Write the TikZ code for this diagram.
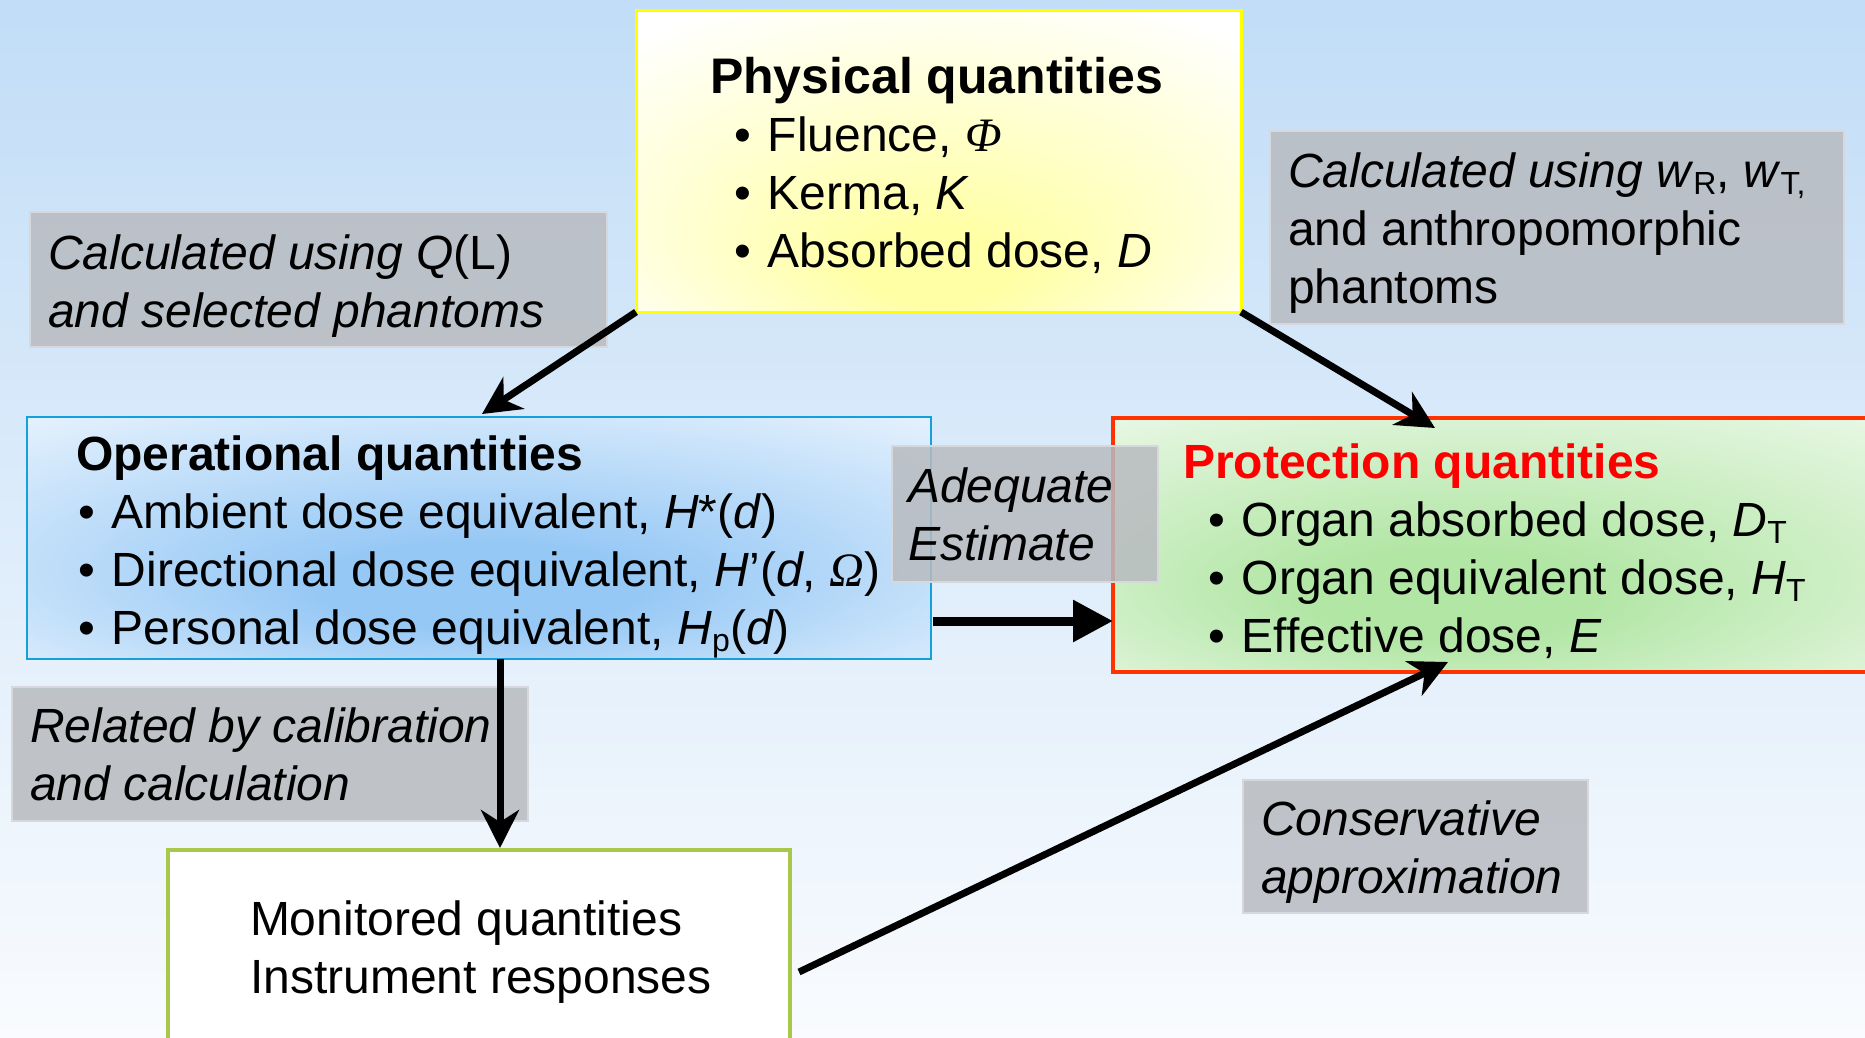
\documentclass[tikz,border=0pt]{standalone}
\usepackage{fontspec}
\setmainfont{Liberation Sans}
\newfontfamily\greekfont{Liberation Serif}
\usepackage{tikz}
\usetikzlibrary{positioning, calc, arrows.meta}
\definecolor{bgtop}{RGB}{193,221,247}
\definecolor{bgmid}{RGB}{241,246,253}
\definecolor{bgbot}{RGB}{249,251,254}
\definecolor{physline}{RGB}{255,255,0}
\definecolor{physfill}{RGB}{255,255,165}
\definecolor{operline}{RGB}{20,160,220}
\definecolor{operfill}{RGB}{150,200,245}
\definecolor{operedge}{RGB}{236,245,254}
\definecolor{protline}{RGB}{255,51,0}
\definecolor{protfill}{RGB}{178,230,165}
\definecolor{protedge}{RGB}{238,249,235}
\definecolor{protred}{RGB}{255,0,0}
\definecolor{monline}{RGB}{168,200,76}
\definecolor{notegray}{RGB}{184,187,192}
\definecolor{noteedge}{RGB}{214,216,220}
\pgfdeclareradialshading[physfill]{physglow}{\pgfpoint{0bp}{-20bp}}{color(0bp)=(physfill); color(6bp)=(physfill); color(36bp)=(white); color(50bp)=(white)}
\pgfdeclareradialshading[operfill,operedge]{operglow}{\pgfpoint{0bp}{-12bp}}{color(0bp)=(operfill); color(9bp)=(operfill); color(40bp)=(operedge); color(50bp)=(operedge)}
\pgfdeclareradialshading[protfill,protedge]{protglow}{\pgfpoint{-5bp}{-12bp}}{color(0bp)=(protfill); color(9bp)=(protfill); color(40bp)=(protedge); color(50bp)=(protedge)}
\newcommand{\qbullet}[1]{\hspace*{#1}\textbullet\hspace*{17pt}}
\newcommand{\qsub}[1]{\raisebox{-7pt}{\fontsize{32}{32}\selectfont #1}}
\newcommand{\qgreek}[1]{{\greekfont\itshape #1}}

\begin{document}
\begin{tikzpicture}[
    x=1pt, y=-1pt,
    every node/.style={inner sep=0pt, outer sep=0pt, font=\fontsize{48}{58}\selectfont},
    txt/.style={anchor=north west, align=left},
    box/.style={anchor=north west, line width=3pt},
    physbox/.style={box, draw=physline, shade, shading=physglow},
    operbox/.style={box, draw=operline, line width=2.5pt, shade, shading=operglow},
    protbox/.style={box, draw=protline, line width=3.5pt, shade, shading=protglow},
    monbox/.style={box, draw=monline, line width=4pt, fill=white},
    note/.style={anchor=north west, draw=noteedge, line width=2pt, fill=notegray, fill opacity=0.85},
    link/.style={-{Stealth[length=38pt, width=38pt, inset=12pt]}, line width=7pt},
    bigarrow/.style={-{Triangle[length=40pt, width=40pt]}, line width=9pt}
]
    % Background
    \useasboundingbox (0,0) rectangle (1865,1037);
    \clip (0,0) rectangle (1865,1037);
    \shade[top color=bgtop, middle color=bgmid, bottom color=bgbot] (0,0) rectangle (1865,1037);

    % Physical quantities
    \node[physbox, minimum width=605pt, minimum height=302pt] (phys) at (636,10) {};
    \node[txt] (physTxt) at ($(phys.north west)+(74,42.4)$) {\strut{\fontsize{50}{58}\selectfont\textbf{Physical quantities}}\\
        \qbullet{24pt}Fluence, \qgreek{Φ}\\
        \qbullet{24pt}Kerma, \textit{K}\\
        \qbullet{24pt}Absorbed dose, \textit{D}};

    % Operational quantities
    \node[operbox, minimum width=904pt, minimum height=242pt] (oper) at (27,417) {};
    \node[txt] (operTxt) at ($(oper.north west)+(49,12.4)$) {\strut\textbf{Operational quantities}\\
        \qbullet{2pt}Ambient dose equivalent, \textit{H}*(\textit{d})\\
        \qbullet{2pt}Directional dose equivalent, \textit{H}’(\textit{d}, \qgreek{Ω})\\
        \qbullet{2pt}Personal dose equivalent, \textit{H}\qsub{p}(\textit{d})};

    % Protection quantities
    \node[protbox, minimum width=800pt, minimum height=254pt] (prot) at (1113,418) {};
    \node[txt] (protTxt) at ($(prot.north west)+(70,19.4)$) {\strut{\color{protred}\textbf{Protection quantities}}\\
        \qbullet{25pt}Organ absorbed dose, \textit{D}\qsub{T}\\
        \qbullet{25pt}Organ equivalent dose, \textit{H}\qsub{T}\\
        \qbullet{25pt}Effective dose, \textit{E}};

    % Monitored quantities
    \node[monbox, minimum width=622pt, minimum height=230pt] (mon) at (168,850) {};
    \node[txt] (monTxt) at ($(mon.north west)+(82,44.4)$) {\strut Monitored quantities\\ Instrument responses};

    % Notes
    \node[note, minimum width=577pt, minimum height=135pt] (noteQ) at (30,212) {};
    \node[txt] (noteQTxt) at ($(noteQ.north west)+(18,16.4)$) {\strut\textit{Calculated using Q}(L)\\ \textit{and selected phantoms}};

    \node[note, minimum width=574pt, minimum height=193pt] (noteW) at (1270,131) {};
    \node[txt] (noteWTxt) at ($(noteW.north west)+(18,15.4)$) {\strut\textit{Calculated using w}\qsub{R}, \textit{w}\qsub{T,}\\ and anthropomorphic\\ phantoms};

    \node[note, minimum width=266pt, minimum height=136pt] (noteAdq) at (892,446) {};
    \node[txt] (noteAdqTxt) at ($(noteAdq.north west)+(16,15.4)$) {\strut\textit{Adequate}\\ \textit{Estimate}};

    \node[note, minimum width=516pt, minimum height=134pt] (noteRel) at (12,687) {};
    \node[txt] (noteRelTxt) at ($(noteRel.north west)+(18,14.9)$) {\strut\textit{Related by calibration}\\ \textit{and calculation}};

    \node[note, minimum width=345pt, minimum height=133pt] (noteCons) at (1243,780) {};
    \node[txt] (noteConsTxt) at ($(noteCons.north west)+(18,14.4)$) {\strut\textit{Conservative}\\ \textit{approximation}};

    % Connections
    \coordinate (operIn) at ($(oper.north west)+(455,-3)$);
    \coordinate (protIn) at ($(prot.north west)+(322,10)$);
    \coordinate (operOut) at ($(oper.south west)+(473,0)$);
    \coordinate (monIn) at ($(mon.north west)+(332,-2)$);
    \coordinate (monOut) at ($(mon.north east)+(9,122)$);
    \coordinate (protUp) at ($(prot.south west)+(335,-10)$);
    \foreach \i/\j in {phys.south west/operIn, phys.south east/protIn, operOut/monIn, monOut/protUp} {
        \draw[link] (\i) -- (\j);
    }
    \draw[bigarrow] ($(oper.south east)+(2,-38)$) coordinate (operSide) -- (prot.west |- operSide);
\end{tikzpicture}
\end{document}
